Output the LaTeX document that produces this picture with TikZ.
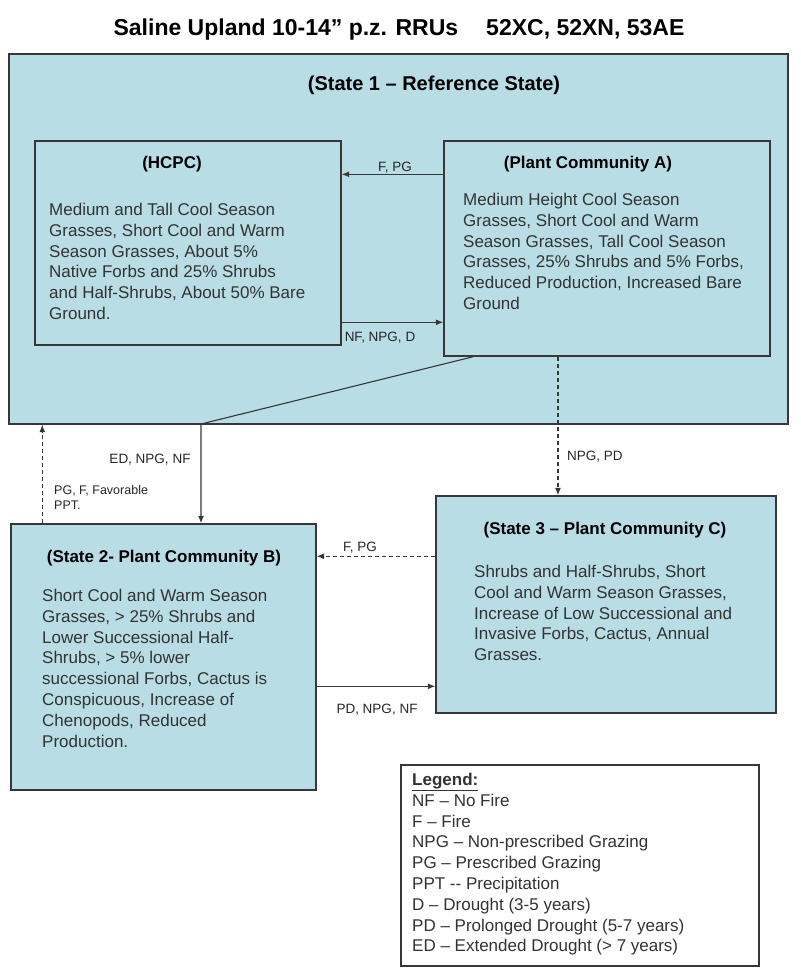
\documentclass[tikz,border=0pt]{standalone}
\usepackage{fontspec}
\setmainfont{Liberation Sans}
\usetikzlibrary{arrows.meta}

\definecolor{stateblue}{RGB}{184,221,228}
\definecolor{edgegray}{RGB}{55,55,55}

\tikzset{
  statebox/.style={draw=edgegray, line width=1.4pt, fill=stateblue, inner sep=0pt},
  legendbox/.style={draw=edgegray, line width=1.4pt, fill=white, inner sep=0pt},
  boxtitle/.style={font=\fontsize{17}{20}\selectfont\bfseries, inner sep=0pt},
  bodytext/.style={align=left, anchor=north west, inner sep=0pt, text=black!80,
    font=\fontsize{17}{20.8}\selectfont},
  arclabel/.style={font=\fontsize{13.5}{15}\selectfont, text=black!85, inner sep=0pt},
  trans/.style={draw=edgegray, line width=1.1pt, -{Latex[length=7.5pt,width=6pt]}},
  dtrans/.style={trans, dash pattern=on 4pt off 3pt},
}

\begin{document}
\begin{tikzpicture}[x=1pt, y=-1pt]
\useasboundingbox (0,0) rectangle (800,979);

% Title
\node[font=\fontsize{23}{26}\selectfont\bfseries, inner sep=0pt] (title) at (399,30)
  {Saline Upland 10-14” p.z. RRUs\hspace{28pt}52XC, 52XN, 53AE};

% State 1
\node[statebox, minimum width=779, minimum height=370] (st1) at (398.5,239) {};
\node[font=\fontsize{20}{24}\selectfont\bfseries, inner sep=0pt] (st1title) at (434,85)
  {(State 1 -- Reference State)};

% HCPC
\node[statebox, minimum width=306, minimum height=204] (hcpc) at (188,243) {};
\node[boxtitle] (hcpctitle) at (172,164) {(HCPC)};
\node[bodytext] (hcpcbody) at (49,203) {Medium and Tall Cool Season\\
  Grasses, Short Cool and Warm\\
  Season Grasses, About 5\%\\
  Native Forbs and 25\% Shrubs\\
  and Half-Shrubs, About 50\% Bare\\
  Ground.};

% Plant Community A
\node[statebox, minimum width=326, minimum height=215] (pca) at (607,248.5) {};
\node[boxtitle] (pcatitle) at (588,164) {(Plant Community A)};
\node[bodytext] (pcabody) at (463,193) {Medium Height Cool Season\\
  Grasses, Short Cool and Warm\\
  Season Grasses, Tall Cool Season\\
  Grasses, 25\% Shrubs and 5\% Forbs,\\
  Reduced Production, Increased Bare\\
  Ground};

% State 2
\node[statebox, minimum width=305, minimum height=266] (st2) at (163.5,657) {};
\node[boxtitle] (st2title) at (164,558) {(State 2- Plant Community B)};
\node[bodytext] (st2body) at (42,589) {Short Cool and Warm Season\\
  Grasses, > 25\% Shrubs and\\
  Lower Successional Half-\\
  Shrubs, > 5\% lower\\
  successional Forbs, Cactus is\\
  Conspicuous, Increase of\\
  Chenopods, Reduced\\
  Production.};

% State 3
\node[statebox, minimum width=340, minimum height=217] (st3) at (606,604.5) {};
\node[boxtitle] (st3title) at (605,530) {(State 3 -- Plant Community C)};
\node[bodytext] (st3body) at (474,565) {Shrubs and Half-Shrubs, Short\\
  Cool and Warm Season Grasses,\\
  Increase of Low Successional and\\
  Invasive Forbs, Cactus, Annual\\
  Grasses.};

% Legend
\node[legendbox, minimum width=358, minimum height=201] (legend) at (580,865.5) {};
\node[bodytext] (legendbody) at (412,773) {\underline{\textbf{Legend:}}\\
  NF -- No Fire\\
  F -- Fire\\
  NPG -- Non-prescribed Grazing\\
  PG -- Prescribed Grazing\\
  PPT -{}- Precipitation\\
  D -- Drought (3-5 years)\\
  PD -- Prolonged Drought (5-7 years)\\
  ED -- Extended Drought (> 7 years)};

% Transitions inside State 1
\draw[trans] ([yshift=-34]pca.north west) -- ([yshift=-34]hcpc.north east);
\node[arclabel] (fpg1) at (395,168) {F, PG};
\draw[trans] ([yshift=-182]hcpc.north east) -- ([yshift=-182]pca.north west);
\node[arclabel] (nfnpgd) at (380,338) {NF, NPG, D};

% State 1 -> State 2
\coordinate (bend) at (201,424);
\draw[trans] ([xshift=30]pca.south west) -- (bend) -- (bend |- st2.north);
\node[arclabel] (ednpgnf) at (150,460) {ED, NPG, NF};

% State 2 -> State 1
\draw[dtrans] ([xshift=32]st2.north west) -- ([xshift=32]st2.north west |- st1.south);
\node[arclabel, align=left, anchor=north west, font=\fontsize{12.5}{15}\selectfont] (pgfppt) at (54,485)
  {PG, F, Favorable\\PPT.};

% State 1 -> State 3
\draw[dtrans] ([xshift=-49]pca.south) -- ([xshift=-49]pca.south |- st3.north);
\node[arclabel, anchor=west] (npgpd) at (567,457) {NPG, PD};

% State 3 -> State 2
\draw[dtrans] ([yshift=-61]st3.north west) -- ([yshift=-61]st3.north west -| st2.east);
\node[arclabel] (fpg2) at (360,548) {F, PG};

% State 2 -> State 3
\draw[trans] ([yshift=-163]st2.north east) -- ([yshift=-163]st2.north east -| st3.west);
\node[arclabel] (pdnpgnf) at (377,710) {PD, NPG, NF};

\end{tikzpicture}
\end{document}
